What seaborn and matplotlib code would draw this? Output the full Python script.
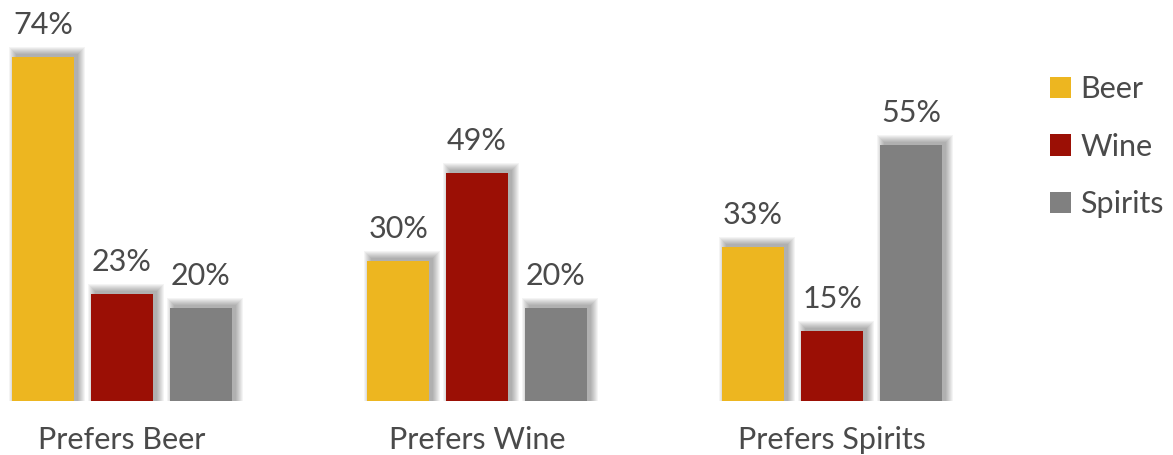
import matplotlib
matplotlib.use("Agg")
import matplotlib.pyplot as plt
import matplotlib.transforms as mtransforms
from matplotlib.patches import Rectangle, Patch
import seaborn as sns
import pandas as pd

categories = ["Prefers Beer", "Prefers Wine", "Prefers Spirits"]
series = ["Beer", "Wine", "Spirits"]
beer = [74, 30, 33]
wine = [23, 49, 15]
spirits = [20, 20, 55]
colors = ["#EDB620", "#9B0F05", "#808080"]

df = pd.DataFrame({
    "category": categories * 3,
    "drink": ["Beer"] * 3 + ["Wine"] * 3 + ["Spirits"] * 3,
    "value": beer + wine + spirits,
})

sns.set_theme(style="white")
plt.rcParams["font.family"] = ["Lato", "DejaVu Sans"]
txt = "#4a4a4a"

fig = plt.figure(figsize=(11.73, 4.55), dpi=100)
ax = fig.add_axes([0, 54 / 455, 1000 / 1173, 401 / 455])

sns.barplot(data=df, x="category", y="value", hue="drink", order=categories,
            hue_order=series, palette=colors, width=0.667, gap=0.21,
            saturation=1, ax=ax, legend=False, zorder=3, linewidth=0, edgecolor="none")

ax.set_xlim(-0.3437, 2.473)
ax.set_ylim(0, 86.2)
for s in ax.spines.values():
    s.set_visible(False)
ax.set_yticks([])
ax.set_xlabel("")
ax.set_ylabel("")
ax.tick_params(axis="x", length=0, pad=18, labelsize=22, labelcolor=txt)

# soft drop shadows (drawn in display pixels)
bars = [p for p in ax.patches if isinstance(p, Rectangle) and p.get_height() > 0]
ident = mtransforms.IdentityTransform()
for p in bars:
    x0, y0 = p.get_x(), p.get_y()
    w, h = p.get_width(), p.get_height()
    (px0, py0), (px1, py1) = ax.transData.transform([(x0, y0), (x0 + w, y0 + h)])
    ox, oy = 4, 3
    for k in range(8):
        e = 7 - k
        r = Rectangle((px0 + ox - e, py0), (px1 - px0) + 2 * e, (py1 - py0) + oy + e,
                      transform=ident, facecolor="black", edgecolor="none",
                      alpha=0.045, zorder=2, clip_on=False)
        ax.add_patch(r)
    ax.annotate(f"{int(round(h))}%", (x0 + w / 2, h), xytext=(0, 13), textcoords="offset points",
                ha="center", va="bottom", fontsize=22, color=txt)

handles = [Patch(facecolor=c, edgecolor="none") for c in colors]
fig.legend(handles, series, loc="upper left", bbox_to_anchor=(1050 / 1173, 1 - 75 / 455),
           frameon=False, fontsize=22, labelcolor=txt, handlelength=0.7, handleheight=0.7,
           handletextpad=0.3, labelspacing=0.97, borderaxespad=0, borderpad=0)

fig.savefig("out.png", dpi=100)
